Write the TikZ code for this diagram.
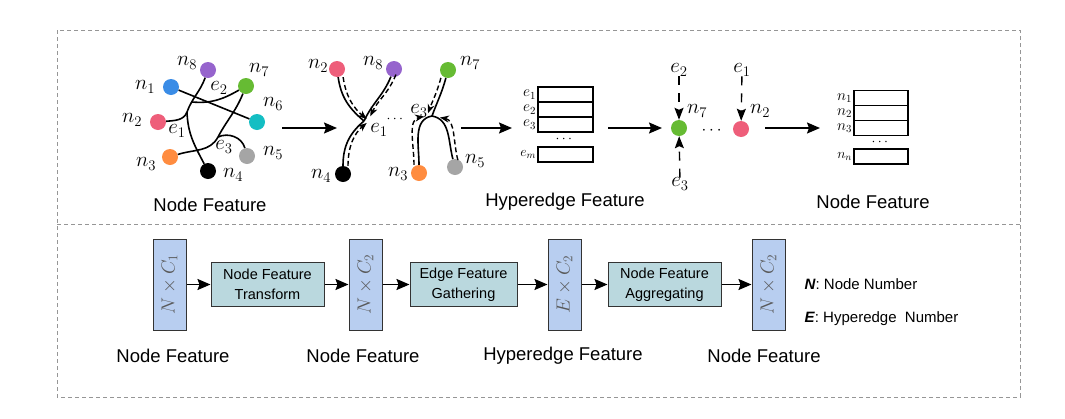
\RequirePackage{fix-cm}
\documentclass[tikz,border=0pt]{standalone}
\usepackage{amsmath}
\usepackage[no-math]{fontspec}
\setmainfont{Liberation Sans}
\usepackage{graphicx}
\usepackage{tikz}
\usetikzlibrary{arrows,arrows.meta,positioning}

\definecolor{nblue}{RGB}{58,140,230}
\definecolor{npurple}{RGB}{150,100,205}
\definecolor{ngreen}{RGB}{102,187,51}
\definecolor{ncyan}{RGB}{20,190,195}
\definecolor{npink}{RGB}{238,94,122}
\definecolor{norange}{RGB}{255,140,64}
\definecolor{ngray}{RGB}{165,165,165}
\definecolor{barblue}{RGB}{184,206,240}
\definecolor{opteal}{RGB}{186,216,222}
\definecolor{frame}{RGB}{150,150,150}

\begin{document}
\begin{tikzpicture}[x=1pt, y=1pt, >={Stealth[length=13pt,width=11pt,inset=2pt]},
                    every edge/.style={draw,solid,line width=1.6pt},
                    vertex/.style={circle,minimum size=16pt,inner sep=0pt},
                    mlabel/.style={font=\fontsize{21}{21}\selectfont,inner sep=0pt},
                    tlabel/.style={font=\fontsize{15.5}{15.5}\selectfont,inner sep=0pt},
                    slabel/.style={font=\fontsize{14}{14}\selectfont,inner sep=0pt},
                    cell/.style={draw,line width=1.5pt,minimum width=55pt,minimum height=15pt,inner sep=0pt},
                    darr/.style={dashed,dash pattern=on 5pt off 3pt,line width=1.4pt,shorten >=3pt,
                                 -{Stealth[length=9pt,width=7pt]}},
                    varr/.style={dashed,dash pattern=on 9pt off 8pt,line width=1.4pt,
                                 -{Stealth[length=12pt,width=9pt,inset=2pt]}},
                    captext/.style={font=\fontsize{18.5}{18.5}\selectfont},
                    featbar/.style={draw=black!80,fill=barblue,line width=1pt,minimum width=33pt,
                                    minimum height=91pt,inner sep=0pt,
                                    font=\fontsize{19}{19}\selectfont\color{black!65}},
                    opbox/.style={draw=black!80,fill=opteal,line width=1pt,minimum width=113pt,
                                  minimum height=44pt,align=center,inner sep=0pt,
                                  font=\fontsize{14.5}{20}\selectfont}]

\useasboundingbox (0,0) rectangle (1065,-418);

% frames
\draw[frame,line width=0.8pt,dash pattern=on 4pt off 3pt] (57,-30) rectangle (1020,-397);
\draw[frame,line width=0.8pt,dash pattern=on 4pt off 3pt] (57,-224) -- (1020,-224);

% node feature graph
\node[vertex,fill=npurple] (a8) at (208,-70) {};
\node[vertex,fill=ngreen] (a7) at (246,-86) {};
\node[vertex,fill=nblue] (a1) at (171,-87) {};
\node[vertex,fill=ncyan] (a6) at (257,-122) {};
\node[vertex,fill=npink] (a2) at (158,-122) {};
\node[vertex,fill=norange] (a3) at (170,-157) {};
\node[vertex,fill=black] (a4) at (208,-171) {};
\node[vertex,fill=ngray] (a5) at (247,-156) {};
\coordinate (ja) at (187,-112);
\coordinate (jb) at (192,-102);
\coordinate (jc) at (218,-137);

\path
(a1) edge (a6)
(a8) edge[out=-110,in=70] (ja)
(ja) edge[out=-88,in=118] (a4)
(a2) edge[out=5,in=-110] (ja)
(jb) edge[out=-5,in=210] (a7)
(a7) edge[out=-112,in=62] (jc)
(jc) edge[out=242,in=18] (a3)
(jc) edge[out=25,in=105] (a5);

\node[mlabel] (la8) at (187,-63) {$n_8$};
\node[mlabel] (la7) at (259,-70) {$n_7$};
\node[mlabel] (la1) at (145,-87) {$n_1$};
\node[mlabel] (la6) at (273,-104) {$n_6$};
\node[mlabel] (la2) at (132,-120) {$n_2$};
\node[mlabel] (la3) at (146,-164) {$n_3$};
\node[mlabel] (la4) at (233,-175) {$n_4$};
\node[mlabel] (la5) at (273,-153) {$n_5$};
\node[mlabel] (le2) at (219,-88) {$e_2$};
\node[mlabel] (le1) at (177,-131) {$e_1$};
\node[mlabel] (le3) at (224,-147) {$e_3$};

% hyperedges with messages
\node[vertex,fill=npink] (b2) at (337,-69) {};
\node[vertex,fill=npurple] (b8) at (394,-69) {};
\node[vertex,fill=ngreen] (b7) at (448,-70) {};
\node[vertex,fill=black] (b4) at (343,-174) {};
\node[vertex,fill=norange] (b3) at (419,-173) {};
\node[vertex,fill=ngray] (b5) at (455,-167) {};
\coordinate (j1) at (364,-121);
\coordinate (j3) at (432,-116);

\path
(b2) edge[out=-82,in=140] (j1)
(b8) edge[out=-112,in=65] (j1)
(b4) edge[out=90,in=220] (j1)
(b7) edge[out=-105,in=70] (j3)
(b3) edge[out=90,in=190] (j3)
(b5) edge[out=105,in=-10] (j3);

\draw[darr,transform canvas={xshift=5pt}] (b2) to[out=-82,in=140] (j1);
\draw[darr,transform canvas={xshift=5pt,yshift=2pt}] (b8) to[out=-112,in=65] (j1);
\draw[darr,transform canvas={xshift=5pt}] (b4) to[out=90,in=220] (j1);
\draw[darr,transform canvas={xshift=-5pt}] (b7) to[out=-105,in=70] (j3);
\draw[darr,transform canvas={xshift=-5pt}] (b3) to[out=90,in=190] (j3);
\draw[darr,transform canvas={xshift=5pt,yshift=-1pt}] (b5) to[out=105,in=-10] (j3);

\node[mlabel] (lb2) at (318,-66) {$n_2$};
\node[mlabel] (lb8) at (373,-63) {$n_8$};
\node[mlabel] (lb7) at (470,-63) {$n_7$};
\node[mlabel] (lb4) at (321,-176) {$n_4$};
\node[mlabel] (lb3) at (398,-174) {$n_3$};
\node[mlabel] (lb5) at (475,-161) {$n_5$};
\node[mlabel] (lj1) at (379,-130) {$e_1$};
\node[mlabel] (lj3) at (419,-111) {$e_3$};
\node[slabel] (dj) at (396,-119) {$\cdots$};

% hyperedge feature table
\node[cell] (h1) at (565.5,-94.5) {};
\node[cell] (h2) at (565.5,-109.5) {};
\node[cell] (h3) at (565.5,-124.5) {};
\node[cell] (hm) at (565.5,-154.5) {};
\node[tlabel,left=1pt of h1] (lh1) {$e_1$};
\node[tlabel,left=1pt of h2] (lh2) {$e_2$};
\node[tlabel,left=1pt of h3] (lh3) {$e_3$};
\node[slabel,left=1pt of hm] (lhm) {$e_m$};
\node[slabel] (dh) at (565,-139) {$\cdots$};

% aggregation
\node[vertex,fill=ngreen] (g7) at (679,-128) {};
\node[vertex,fill=npink] (p2) at (741,-129) {};
\node[mlabel] (ge2) at (679,-70) {$e_2$};
\node[mlabel] (ge1) at (742,-70) {$e_1$};
\node[mlabel] (ge3) at (680,-184) {$e_3$};
\node[mlabel] (lg7) at (697,-111) {$n_7$};
\node[mlabel] (lp2) at (760,-111) {$n_2$};
\node[font=\fontsize{17}{17}\selectfont,inner sep=0pt] (dg) at (713,-131) {$\cdots$};

\path
(ge2) edge[varr] (g7)
(ge1) edge[varr] (p2)
(ge3) edge[varr] (g7);

% node feature table
\node[cell,minimum width=54pt] (m1) at (881,-98) {};
\node[cell,minimum width=54pt] (m2) at (881,-113) {};
\node[cell,minimum width=54pt] (m3) at (881,-128) {};
\node[cell,minimum width=54pt] (mn) at (881,-156.5) {};
\node[tlabel,left=1pt of m1] (lm1) {$n_1$};
\node[tlabel,left=1pt of m2] (lm2) {$n_2$};
\node[tlabel,left=1pt of m3] (lm3) {$n_3$};
\node[slabel,left=1pt of mn] (lmn) {$n_n$};
\node[slabel] (dm) at (881,-142) {$\cdots$};

% arrows between stages
\coordinate (s1) at (282,-128); \coordinate (t1) at (337,-128);
\coordinate (s2) at (461,-128); \coordinate (t2) at (512,-128);
\coordinate (s3) at (608,-128); \coordinate (t3) at (662,-128);
\coordinate (s4) at (765,-128); \coordinate (t4) at (820,-128);
\path[->]
(s1) edge (t1)
(s2) edge (t2)
(s3) edge (t3)
(s4) edge (t4);

\node[captext] (c1) at (210,-205) {Node Feature};
\node[captext] (c2) at (565,-202) {Hyperedge Feature};
\node[captext] (c3) at (873,-202) {Node Feature};

% pipeline
\node[featbar] (f1) at (169.5,-284.5) {\rotatebox{90}{$N\times C_1$}};
\node[opbox,right=24pt of f1] (o1) {Node Feature\\Transform};
\node[featbar,right=24pt of o1] (f2) {\rotatebox{90}{$N\times C_2$}};
\node[opbox,minimum width=107pt,right=27pt of f2] (o2) {Edge Feature\\Gathering};
\node[featbar,right=30pt of o2] (f3) {\rotatebox{90}{$E\times C_2$}};
\node[opbox,right=26pt of f3] (o3) {Node Feature\\Aggregating};
\node[featbar,right=30pt of o3] (f4) {\rotatebox{90}{$N\times C_2$}};

\path[->,every edge/.append style={line width=1.8pt}]
(f1) edge (o1)
(o1) edge (f2)
(f2) edge (o2)
(o2) edge (f3)
(f3) edge (o3)
(o3) edge (f4);

\node[captext] (d1) at (173,-356) {Node Feature};
\node[captext] (d2) at (363,-356) {Node Feature};
\node[captext] (d3) at (563,-356) {Hyperedge Feature};
\node[captext] (d4) at (764,-356) {Node Feature};

\node[anchor=west,font=\fontsize{15}{15}\selectfont] (kn) at (801,-284) {\textbf{\textit{N}}: Node Number};
\node[anchor=west,font=\fontsize{15}{15}\selectfont] (ke) at (801,-319) {\textbf{\textit{E}}: Hyperedge\ \ Number};
\end{tikzpicture}
\end{document}
